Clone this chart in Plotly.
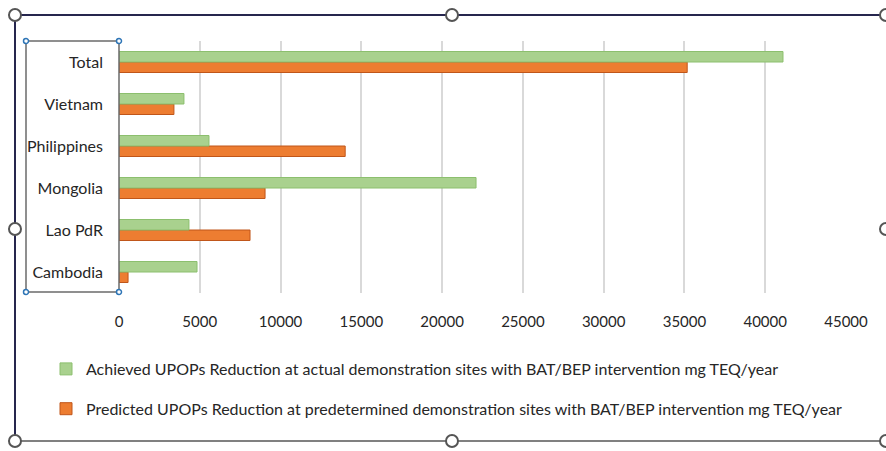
import plotly.graph_objects as go

countries = ["Cambodia", "Lao PdR", "Mongolia", "Philippines", "Vietnam", "Total"]
achieved = [4830, 4330, 22100, 5570, 4020, 41100]
predicted = [560, 8110, 9040, 14000, 3400, 35170]

achieved_name = "Achieved UPOPs Reduction at actual demonstration sites with BAT/BEP intervention mg TEQ/year"
predicted_name = "Predicted UPOPs Reduction at predetermined demonstration sites with BAT/BEP intervention mg TEQ/year"
x_ticks = [0, 5000, 10000, 15000, 20000, 25000, 30000, 35000, 40000, 45000]

W, H = 886, 451
L, R, T, B = 119, 40, 41, 158
PW, PH = W - L - R, H - T - B

def px(x):
    return (x - L) / PW

def py(y):
    return (H - B - y) / PH

FONT = "Lato"

fig = go.Figure()
# predicted first so it sits below the achieved bar in each group
fig.add_trace(go.Bar(
    y=countries, x=predicted, orientation="h", name=predicted_name,
    marker=dict(color="#ed7d31", line=dict(color="#c0561a", width=1)),
    legendrank=2, legendgroup="p",
))
fig.add_trace(go.Bar(
    y=countries, x=achieved, orientation="h", name=achieved_name,
    marker=dict(color="#a9d18e", line=dict(color="#8cbf6e", width=1)),
    legendrank=1, legendgroup="a",
))

shapes = []
navy = "#26264e"
# outer chart frame
shapes.append(dict(type="line", xref="paper", yref="paper", x0=px(15), x1=px(890), y0=py(15), y1=py(15),
                   line=dict(color=navy, width=2)))
shapes.append(dict(type="line", xref="paper", yref="paper", x0=px(15), x1=px(15), y0=py(15), y1=py(441),
                   line=dict(color=navy, width=2)))
shapes.append(dict(type="line", xref="paper", yref="paper", x0=px(15), x1=px(890), y0=py(441), y1=py(441),
                   line=dict(color="#808080", width=2)))
# inner box around category labels
shapes.append(dict(type="rect", xref="paper", yref="paper", x0=px(26), x1=px(119), y0=py(41), y1=py(292),
                   line=dict(color="#6b6b6b", width=1.5)))

def circle(cx, cy, r, fill, stroke, w):
    return dict(type="circle", xref="paper", yref="paper",
                x0=px(cx - r), x1=px(cx + r), y0=py(cy + r), y1=py(cy - r),
                fillcolor=fill, line=dict(color=stroke, width=w))

for cx, cy in [(15, 15), (452, 15), (886, 15), (15, 229), (886, 229), (15, 441), (452, 441), (886, 441)]:
    shapes.append(circle(cx, cy, 6, "white", "#555555", 2))
for cx, cy in [(26, 41), (119, 41), (26, 292), (119, 292)]:
    shapes.append(circle(cx, cy, 2.5, "white", "#2e75b6", 1.5))

fig.update_layout(
    width=W, height=H,
    margin=dict(l=L, r=R, t=T, b=B, autoexpand=False),
    paper_bgcolor="white", plot_bgcolor="white",
    barmode="group", bargap=0.5, bargroupgap=0,
    font=dict(family=FONT, size=15, color="#262626"),
    xaxis=dict(range=[0, 45000], tickvals=x_ticks, ticktext=[str(v) for v in x_ticks],
               showgrid=True, gridcolor="#d9d9d9", gridwidth=1.5, zeroline=False,
               showline=False, ticks="", tickfont=dict(size=15, family=FONT, color="#262626"),
               ticklabelstandoff=18),
    yaxis=dict(showgrid=False, zeroline=False, showline=False, ticks="",
               tickfont=dict(size=16, family=FONT, color="#262626"), ticklabelstandoff=15),
    legend=dict(x=px(46), y=py(352), xanchor="left", yanchor="top",
                font=dict(size=16, family=FONT, color="#262626"),
                traceorder="grouped", tracegroupgap=16, itemwidth=30,
                bgcolor="rgba(0,0,0,0)"),
    shapes=shapes,
)

fig.write_html("out.html")
